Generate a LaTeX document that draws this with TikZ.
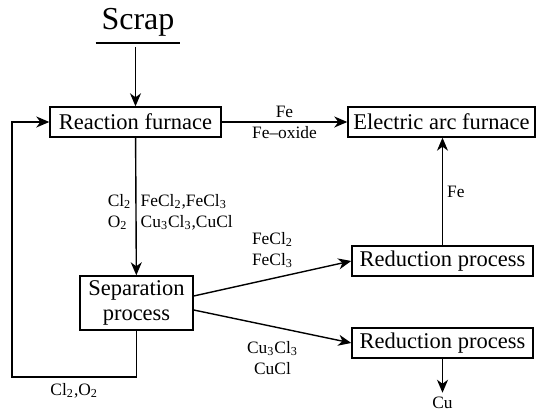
\documentclass[tikz,border=0pt]{standalone}
\usepackage{fontspec}
\setmainfont{Liberation Serif}
\usetikzlibrary{arrows.meta, positioning}
\tikzset{
  box/.style={rectangle, draw, line width=0.7pt, inner sep=0pt,
              minimum height=15pt, font=\fontsize{11.25}{12.5}\selectfont},
  lbl/.style={font=\fontsize{8.7}{10.5}\selectfont, inner sep=2pt},
  arrow/.style={-{Stealth[length=6.5pt, width=5.5pt, inset=2pt]}, line width=0.7pt},
}

\begin{document}
\begin{tikzpicture}[x=0.5pt, y=-0.5pt]
  \useasboundingbox (0,0) rectangle (537,410);
  % input
  \node[font=\fontsize{16}{18}\selectfont, inner xsep=0pt, inner ysep=3pt,
        minimum width=42pt, anchor=south] (scrap) at (138,43) {Scrap};
  \draw[line width=0.7pt] (scrap.south west) -- (scrap.south east);
  % process boxes
  \node[box, minimum width=85.5pt] (reaction) at (135.5,122) {Reaction furnace};
  \node[box, minimum width=93.5pt] (arc) at (441.5,122) {Electric arc furnace};
  \node[box, minimum width=56.5pt, minimum height=27pt, align=center] (separation)
        at (136.5,303) {Separation\\process};
  \node[box, minimum width=90.5pt] (reductionFe) at (442.5,261) {Reduction process};
  \node[box, minimum width=90.5pt] (reductionCu) at (442.5,343) {Reduction process};
  \node[lbl] (cu) at (442.5,403) {Cu};
  \coordinate (loop) at (12,377);
  % flows
  \draw[arrow] ([yshift=-2pt]scrap.south -| reaction.north) -- (reaction.north);
  \draw[arrow] (reaction) -- (arc)
    node[midway, above, lbl] {Fe}
    node[midway, below, lbl] {Fe--oxide};
  \draw[arrow] (reaction) -- (separation)
    node[pos=0.54, left, lbl, align=left] {Cl\textsubscript{2}\\O\textsubscript{2}}
    node[pos=0.54, right, lbl, align=left] {FeCl\textsubscript{2},FeCl\textsubscript{3}\\Cu\textsubscript{3}Cl\textsubscript{3},CuCl};
  \draw[arrow] ([yshift=3.5pt]separation.east) -- (reductionFe.west)
    node[midway, above=3pt, lbl, align=left] {FeCl\textsubscript{2}\\FeCl\textsubscript{3}};
  \draw[arrow] ([yshift=-3.5pt]separation.east) -- (reductionCu.west)
    node[midway, below=5pt, lbl, align=center] {Cu\textsubscript{3}Cl\textsubscript{3}\\CuCl};
  \draw[arrow] (reductionFe.north) -- (reductionFe.north |- arc.south)
    node[midway, right, lbl] {Fe};
  \draw[arrow] (reductionCu) -- (cu);
  % recycled gas
  \draw[arrow] (separation.south) |- node[pos=0.75, below=1pt, lbl] {Cl\textsubscript{2},O\textsubscript{2}} (loop) |- (reaction.west);
\end{tikzpicture}
\end{document}
